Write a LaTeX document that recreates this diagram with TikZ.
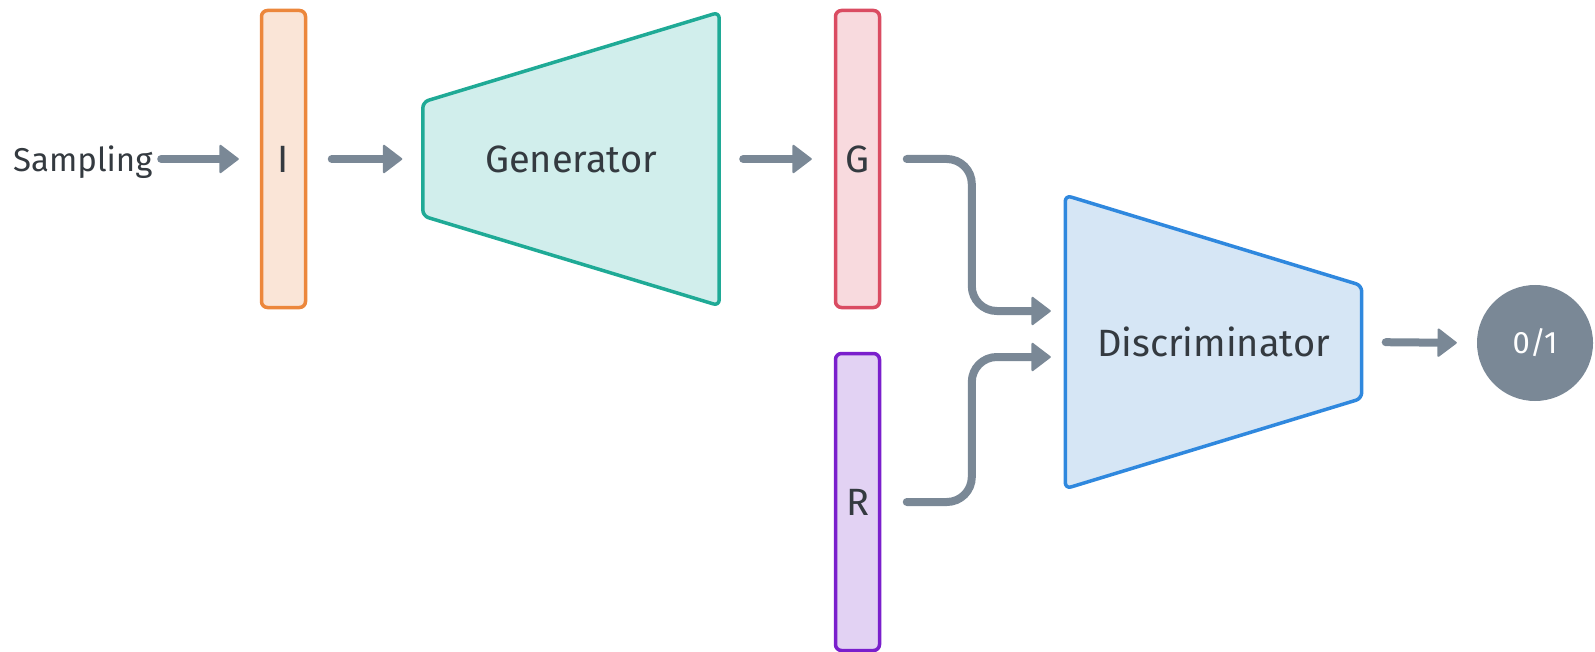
\documentclass[tikz,border=0pt]{standalone}
\usepackage{fontspec}
\setmainfont{Fira Sans}
\usetikzlibrary{arrows.meta,calc,backgrounds}

\definecolor{ink}{HTML}{343A40}
\definecolor{wire}{HTML}{7A8896}
\definecolor{inDraw}{HTML}{EC873C}
\definecolor{inFill}{HTML}{FAE5D7}
\definecolor{genDraw}{HTML}{1FAA96}
\definecolor{genFill}{HTML}{D1EEEC}
\definecolor{gDraw}{HTML}{DA4C62}
\definecolor{gFill}{HTML}{F8DADE}
\definecolor{rDraw}{HTML}{7A1FCC}
\definecolor{rFill}{HTML}{E2D2F3}
\definecolor{dDraw}{HTML}{2F88DE}
\definecolor{dFill}{HTML}{D6E6F5}

\tikzset{
  lbl/.style={text=ink, font=\fontsize{38}{45}\selectfont, inner sep=0pt},
  bar/.style={lbl, draw, line width=3.5pt, rounded corners=6pt,
              minimum width=44pt, minimum height=297pt},
  netbox/.style={inner sep=0pt, minimum width=296pt, minimum height=293pt},
  netshape/.style={line width=3.5pt, rounded corners=6pt, line join=round},
  conn/.style={draw=wire, line width=8pt, line cap=round,
               -{Triangle[width=30pt,length=20pt,line width=2pt,round]}},
}

\begin{document}
\begin{tikzpicture}[x=1pt,y=-1pt]
  \useasboundingbox (0,0) rectangle (1595,652);

  % input label and latent vector
  \node[lbl, anchor=base west, font=\fontsize{33}{39}\selectfont] (samp) at (13,172) {Sampling};
  \node[bar, fill=inFill, draw=inDraw] (I) at (283.5,159) {I};

  % generator network
  \node[lbl, netbox] (gen) at (571,159) {Generator};
  \begin{scope}[on background layer]
    \draw[netshape, draw=genDraw, fill=genFill]
      ($(gen.west)+(0,-57)$) -- (gen.north east) -- (gen.south east)
      -- ($(gen.west)+(0,57)$) -- cycle;
  \end{scope}

  % generated and real samples
  \node[bar, fill=gFill, draw=gDraw] (G) at (857.5,159) {G};
  \node[bar, fill=rFill, draw=rDraw] (R) at (857.5,502) {R};

  % discriminator network
  \node[lbl, netbox] (D) at (1213.5,342) {Discriminator};
  \begin{scope}[on background layer]
    \draw[netshape, draw=dDraw, fill=dFill]
      (D.north west) -- ($(D.east)+(0,-56.5)$) -- ($(D.east)+(0,56.5)$)
      -- (D.south west) -- cycle;
  \end{scope}

  % decision
  \node[circle, fill=wire, minimum size=116pt, inner sep=0pt, text=white,
        font=\fontsize{31}{37}\selectfont] (out) at (1535,343) {0/1};

  % connectors
  \draw[conn, shorten <=8.5pt, shorten >=21pt] (samp.east |- I.west) -- (I.west);
  \draw[conn, shorten <=24.5pt, shorten >=20.5pt] (I.east) -- (gen.west);
  \draw[conn, shorten <=24pt, shorten >=22pt] (gen.east) -- (G.west);
  \draw[conn, rounded corners=25pt]
    ([xshift=25.5pt]G.east) -| ([xshift=-93.5pt,yshift=31pt]D.west)
    -- ([xshift=-14.5pt,yshift=31pt]D.west);
  \draw[conn, rounded corners=25pt]
    ([xshift=25.5pt]R.east) -| ([xshift=-93.5pt,yshift=-15pt]D.west)
    -- ([xshift=-14.5pt,yshift=-15pt]D.west);
  \draw[conn, shorten <=24pt, shorten >=20pt] (D.east) -- (out.west);
\end{tikzpicture}
\end{document}
